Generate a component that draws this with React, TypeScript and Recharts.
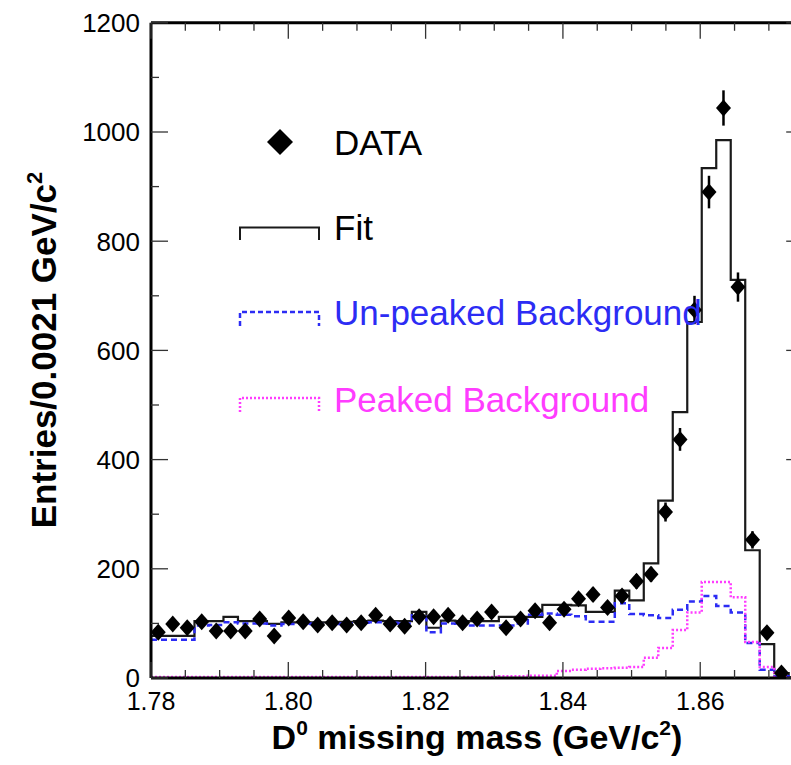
import React from 'react';
import { ComposedChart, Line, Scatter, ErrorBar, XAxis, YAxis } from 'recharts';

// binning of the histogram (45 bins from 1.78 to 1.875)
const X_MIN = 1.78;
const X_MAX = 1.875;
const N_BINS = 45;
const BIN_W = (X_MAX - X_MIN) / N_BINS;

// entries per bin
const DATA_COUNTS = [
  84, 99, 92, 103, 86, 86, 86, 108, 77, 110, 103, 97, 101, 97, 101, 115, 99, 95, 112, 112, 115, 101,
  108, 121, 92, 108, 123, 101, 126, 145, 153, 129, 150, 177, 190, 304, 437, 674, 890, 1044, 716, 253, 83, 9,
];
const FIT_COUNTS = [
  77, 77, 77, 104, 104, 112, 104, 104, 99, 102, 102, 102, 102, 103, 104, 105, 104, 104, 121, 92, 105, 104,
  104, 104, 112, 112, 112, 134, 134, 133, 121, 121, 160, 142, 210, 325, 487, 652, 934, 985, 729, 234, 62, 9, 1,
];
const UNPEAKED_BG = [
  70, 70, 70, 96, 97, 102, 100, 100, 96, 99, 100, 99, 99, 100, 101, 102, 101, 100, 115, 84, 100, 96,
  96, 96, 96, 100, 116, 118, 116, 113, 103, 103, 137, 117, 115, 110, 125, 140, 150, 132, 120, 64, 15, 3, 0,
];
const PEAKED_BG = [
  2, 2, 2, 2, 2, 2, 2, 2, 2, 2, 2, 2, 2, 2, 2, 2, 2, 2, 2, 2, 2, 2,
  2, 2, 3, 3, 4, 4, 13, 15, 17, 18, 19, 20, 37, 55, 88, 120, 176, 176, 148, 66, 20, 2, 0,
];

const X_TICKS = [
  1.78, 1.785, 1.79, 1.795, 1.8, 1.805, 1.81, 1.815, 1.82, 1.825,
  1.83, 1.835, 1.84, 1.845, 1.85, 1.855, 1.86, 1.865, 1.87, 1.875,
];
const X_MAJOR = ['1.78', '1.80', '1.82', '1.84', '1.86'];
const Y_TICKS = [0, 100, 200, 300, 400, 500, 600, 700, 800, 900, 1000, 1100, 1200];

const FONT = '"Liberation Sans", Arial, Helvetica, sans-serif';
const BLUE = '#2c2cf4';
const MAGENTA = '#ff3cff';

const edges = Array.from({ length: N_BINS + 1 }, (_, i) => X_MIN + i * BIN_W);
const histRows = (counts: number[]) =>
  edges.map((x, i) => ({ x, y: counts[Math.min(i, counts.length - 1)] }));

const dataRows = DATA_COUNTS.map((c, i) => ({
  x: X_MIN + (i + 0.5) * BIN_W,
  y: c,
  err: Math.sqrt(c),
}));

const isMajorX = (v: number) => X_MAJOR.includes(v.toFixed(2)) && Math.abs(v * 50 - Math.round(v * 50)) < 1e-6;

const BottomTick = ({ x, y, payload }: any) => {
  const major = isMajorX(payload.value);
  return (
    <g>
      <line x1={x} x2={x} y1={y} y2={y - (major ? 16 : 8)} stroke="#333" strokeWidth={1.3} />
      {major && (
        <text x={x} y={y + 32} textAnchor="middle" fontSize={25} fontFamily={FONT} fill="#000">
          {payload.value.toFixed(2)}
        </text>
      )}
    </g>
  );
};

const TopTick = ({ x, y, payload }: any) => {
  const major = isMajorX(payload.value);
  return <line x1={x} x2={x} y1={y} y2={y + (major ? 16 : 8)} stroke="#333" strokeWidth={1.3} />;
};

const LeftTick = ({ x, y, payload }: any) => {
  const major = payload.value % 200 === 0;
  return (
    <g>
      <line x1={x} x2={x + (major ? 17 : 8)} y1={y} y2={y} stroke="#333" strokeWidth={1.3} />
      {major && (
        <text x={x - 11} y={y} dy="0.36em" textAnchor="end" fontSize={26} fontFamily={FONT} fill="#000">
          {payload.value}
        </text>
      )}
    </g>
  );
};

const RightTick = ({ x, y, payload }: any) => {
  const major = payload.value % 200 === 0;
  return <line x1={x} x2={x - (major ? 17 : 8)} y1={y} y2={y} stroke="#333" strokeWidth={1.3} />;
};

const Diamond = ({ cx, cy }: any) => (
  <polygon points={`${cx},${cy - 8.5} ${cx + 7.5},${cy} ${cx},${cy + 8.5} ${cx - 7.5},${cy}`} fill="#000" />
);

const frame = { stroke: '#000', strokeWidth: 3 };

export default function App() {
  return (
    <div
      style={{
        position: 'fixed',
        left: 0,
        top: 0,
        width: 791,
        height: 765,
        overflow: 'hidden',
        background: '#fff',
      }}
    >
      <ComposedChart width={830} height={765} margin={{ top: 21.8, right: 25.8, bottom: 86, left: 150 }}>
        <XAxis
          dataKey="x"
          type="number"
          domain={[X_MIN, X_MAX]}
          allowDataOverflow
          ticks={X_TICKS}
          interval={0}
          height={1}
          tickSize={0}
          tickMargin={0}
          tickLine={false}
          axisLine={frame}
          tick={<BottomTick />}
        />
        <XAxis
          xAxisId="top"
          orientation="top"
          dataKey="x"
          type="number"
          domain={[X_MIN, X_MAX]}
          allowDataOverflow
          ticks={X_TICKS}
          interval={0}
          height={1}
          tickSize={0}
          tickMargin={0}
          tickLine={false}
          axisLine={frame}
          tick={<TopTick />}
        />
        <YAxis
          type="number"
          domain={[0, 1200]}
          allowDataOverflow
          ticks={Y_TICKS}
          interval={0}
          width={1}
          tickSize={0}
          tickMargin={0}
          tickLine={false}
          axisLine={frame}
          tick={<LeftTick />}
        />
        <YAxis
          yAxisId="right"
          orientation="right"
          type="number"
          domain={[0, 1200]}
          allowDataOverflow
          ticks={Y_TICKS}
          interval={0}
          width={1}
          tickSize={0}
          tickMargin={0}
          tickLine={false}
          axisLine={frame}
          tick={<RightTick />}
        />

        <Line
          data={histRows(FIT_COUNTS)}
          dataKey="y"
          type="stepAfter"
          stroke="#1a1a1a"
          strokeWidth={2.2}
          dot={false}
          isAnimationActive={false}
        />
        <Line
          data={histRows(UNPEAKED_BG)}
          dataKey="y"
          type="stepAfter"
          stroke={BLUE}
          strokeWidth={2.5}
          strokeDasharray="6 4"
          dot={false}
          isAnimationActive={false}
        />
        <Line
          data={histRows(PEAKED_BG)}
          dataKey="y"
          type="stepAfter"
          stroke={MAGENTA}
          strokeWidth={2.5}
          strokeDasharray="2 2"
          dot={false}
          isAnimationActive={false}
        />
        <Scatter data={dataRows} dataKey="y" fill="#000" shape={<Diamond />} isAnimationActive={false}>
          <ErrorBar dataKey="err" direction="y" width={0} stroke="#000" strokeWidth={2.5} />
        </Scatter>
      </ComposedChart>

      {/* titles and legend */}
      <svg
        width={791}
        height={765}
        style={{ position: 'absolute', left: 0, top: 0, pointerEvents: 'none' }}
        fontFamily={FONT}
      >
        <text x={477} y={749} textAnchor="middle" fontSize={34} fontWeight="bold" fill="#000">
          D<tspan dy={-14} fontSize={21}>0</tspan>
          <tspan dy={14}> missing mass (GeV/c</tspan>
          <tspan dy={-14} fontSize={21}>2</tspan>
          <tspan dy={14}>)</tspan>
        </text>
        <text
          transform="rotate(-90)"
          x={-350}
          y={56}
          textAnchor="middle"
          fontSize={35}
          fontWeight="bold"
          fill="#000"
        >
          Entries/0.0021 GeV/c<tspan dy={-14} fontSize={22}>2</tspan>
        </text>

        <polygon points="280,129 293,142 280,155 267,142" fill="#000" />
        <text x={334} y={155} fontSize={35} fill="#000">DATA</text>

        <path d="M240 240 V227.5 H319 V240" fill="none" stroke="#1a1a1a" strokeWidth={2} />
        <text x={334} y={240} fontSize={35} fill="#000">Fit</text>

        <path d="M240 326 V312 H319 V326" fill="none" stroke={BLUE} strokeWidth={2.5} strokeDasharray="5 3" />
        <text x={334} y={325} fontSize={35} fill={BLUE}>Un-peaked Background</text>

        <path d="M240 412 V398 H319 V412" fill="none" stroke={MAGENTA} strokeWidth={2.5} strokeDasharray="2 2" />
        <text x={334} y={412} fontSize={35} fill={MAGENTA}>Peaked Background</text>
      </svg>
    </div>
  );
}
